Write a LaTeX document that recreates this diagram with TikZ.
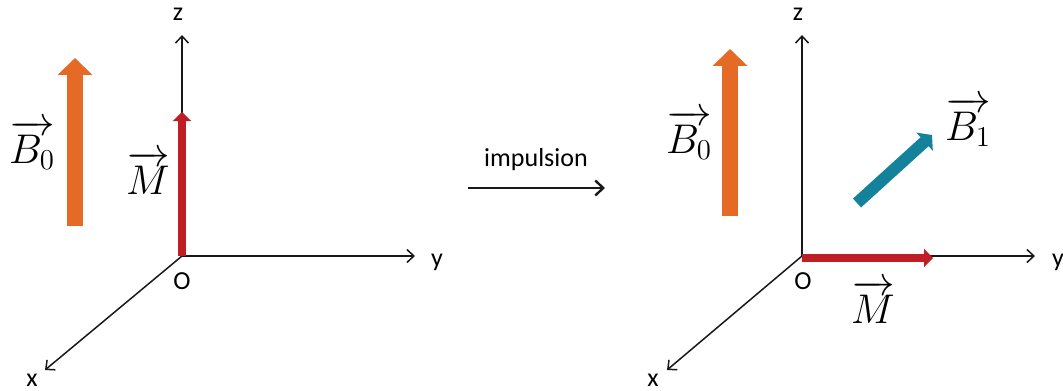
\documentclass[tikz,border=0pt]{standalone}
\usepackage{amsmath}
\usepackage{fontspec}
\newfontfamily\axisfont{Carlito}
\usepackage{xcolor}
\usepackage{tikz}
\usetikzlibrary{arrows.meta}
\definecolor{bfieldorange}{HTML}{E46A25}
\definecolor{magnred}{HTML}{BE1E24}
\definecolor{pulseteal}{HTML}{13829A}
\tikzset{
  axis/.style={line width=0.75pt, draw=black!90, -{Straight Barb[length=3.5pt, width=6.5pt]}},
  axislabel/.style={font=\axisfont\fontsize{13}{15}\selectfont, inner sep=0pt},
  veclabel/.style={font=\fontsize{20}{24}\selectfont, inner sep=0pt},
  fieldarrow/.style={line width=8pt, draw=bfieldorange,
    -{Triangle[width=17pt, length=8.5pt]}},
  magnarrow/.style={line width=4pt, draw=magnred,
    -{Triangle[width=9pt, length=4.5pt]}},
  pulsearrow/.style={line width=6pt, draw=pulseteal,
    -{Triangle[width=12pt, length=5pt]}},
  steparrow/.style={line width=1.2pt, draw=black!90,
    -{Straight Barb[length=4pt, width=7.5pt]}}
}
\begin{document}
\begin{tikzpicture}[x=0.5pt, y=-0.5pt]
\useasboundingbox (0,0) rectangle (1063,390);

% left frame: before the pulse
\coordinate (o1) at (182,256);
\coordinate (z1) at (182,35);
\coordinate (y1) at (415,256);
\coordinate (x1) at (45,370);
\draw[axis] (o1) -- (z1);
\draw[axis] (o1) -- (y1);
\draw[axis] (o1) -- (x1);
\node[axislabel] (zlab1) at (178,14) {z};
\node[axislabel] (ylab1) at (437,262) {y};
\node[axislabel] (xlab1) at (32,380) {x};
\node[axislabel] (olab1) at (182,281) {O};

\coordinate (b0base1) at (75,226);
\coordinate (b0tip1) at (75,58);
\draw[fieldarrow] (b0base1) -- (b0tip1);
\node[veclabel] (b0lab1) at (32,145) {$\overrightarrow{B_0}$};

\coordinate (mtip1) at (182,112);
\draw[magnarrow] (o1) -- (mtip1);
\node[veclabel] (mlab1) at (148,173) {$\overrightarrow{M}$};

% transition
\coordinate (pstart) at (468,188);
\coordinate (pend) at (605,188);
\draw[steparrow] (pstart) -- (pend);
\node[axislabel] (plab) at (536,160) {impulsion};

% right frame: after the pulse
\coordinate (o2) at (802,256);
\coordinate (z2) at (802,35);
\coordinate (y2) at (1035,256);
\coordinate (x2) at (667,370);
\draw[axis] (o2) -- (z2);
\draw[axis] (o2) -- (y2);
\draw[axis] (o2) -- (x2);
\node[axislabel] (zlab2) at (798,14) {z};
\node[axislabel] (ylab2) at (1058,262) {y};
\node[axislabel] (xlab2) at (653,380) {x};
\node[axislabel] (olab2) at (803,281) {O};

\coordinate (b0base2) at (730,216);
\coordinate (b0tip2) at (730,49);
\draw[fieldarrow] (b0base2) -- (b0tip2);
\node[veclabel] (b0lab2) at (689,135) {$\overrightarrow{B_0}$};

\coordinate (b1base) at (857,203);
\coordinate (b1tip) at (932,135);
\draw[pulsearrow] (b1base) -- (b1tip);
\node[veclabel] (b1lab) at (968,122) {$\overrightarrow{B_1}$};

\coordinate (mbase2) at (802,258);
\coordinate (mtip2) at (933,258);
\draw[magnarrow] (mbase2) -- (mtip2);
\node[veclabel] (mlab2) at (873,302) {$\overrightarrow{M}$};

\end{tikzpicture}
\end{document}
